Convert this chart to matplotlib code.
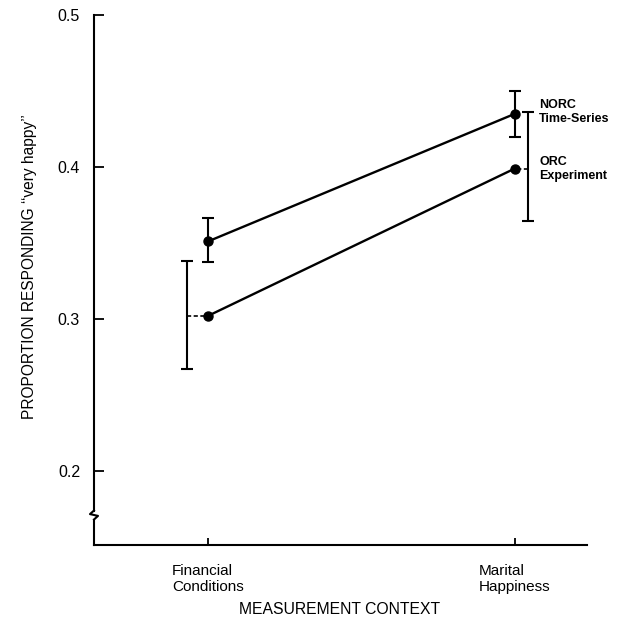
import matplotlib
matplotlib.use("Agg")
import matplotlib.pyplot as plt
from matplotlib.lines import Line2D

plt.rcParams['font.family'] = ['Liberation Sans', 'DejaVu Sans']

contexts = ["Financial\nConditions", "Marital\nHappiness"]
norc_vals = [0.351, 0.435]
norc_lo = [0.3375, 0.420]
norc_hi = [0.3665, 0.450]
orc_vals = [0.302, 0.399]
orc_lo = [0.267, 0.3645]
orc_hi = [0.338, 0.436]
yticks = [0.2, 0.3, 0.4, 0.5]

W, H = 617, 618
fig = plt.figure(figsize=(W/100, H/100), dpi=100)
ax = fig.add_axes([94/W, 1-545/H, (587-94)/W, (545-15)/H])

xs = [0, 1]
k = 'black'
# main lines
ax.plot(xs, norc_vals, color=k, lw=1.7, marker='o', ms=6.5, zorder=3)
ax.plot(xs, orc_vals, color=k, lw=1.7, marker='o', ms=6.5, zorder=3)

# NORC error bars at data points
for x, lo, hi in zip(xs, norc_lo, norc_hi):
    ax.errorbar([x], [(lo+hi)/2], yerr=[[(hi-lo)/2]], fmt='none', ecolor=k,
                elinewidth=1.5, capsize=4.5, capthick=1.5)

# ORC error bars offset from points
orc_off = [-0.068, 0.043]
for x, off, v, lo, hi in zip(xs, orc_off, orc_vals, orc_lo, orc_hi):
    ex = x + off
    ax.errorbar([ex], [(lo+hi)/2], yerr=[[(hi-lo)/2]], fmt='none', ecolor=k,
                elinewidth=1.5, capsize=4.5, capthick=1.5)
    ax.plot([ex, x], [v, v], color=k, lw=1.2, ls=(0, (2.5, 1.5)))

ax.set_xlim(-0.371, 1.235)
ax.set_ylim(0.1513, 0.5)
ax.set_xticks(xs)
ax.set_xticklabels(contexts, fontsize=11, multialignment='left', linespacing=1.15)
ax.set_yticks(yticks)
ax.set_yticklabels([f"{t:.1f}" for t in yticks], fontsize=11.5)
ax.tick_params(axis='y', direction='in', length=7, width=1.3, pad=10)
ax.tick_params(axis='x', direction='in', length=5, width=1.3, pad=14)

for s in ['top', 'right', 'left']:
    ax.spines[s].set_visible(False)
ax.spines['bottom'].set_linewidth(1.5)

# left spine with break
yb = (545-515)/530.0
dx = 4/493
dy = 3/530
tr = ax.transAxes
ax.add_line(Line2D([0, 0], [yb+dy*1.5, 1], transform=tr, color=k, lw=1.5, clip_on=False))
ax.add_line(Line2D([0, -dx, dx, 0], [yb+dy*1.5, yb+dy*0.3, yb-dy*0.3, yb-dy*1.5],
                   transform=tr, color=k, lw=1.5, clip_on=False))
ax.add_line(Line2D([0, 0], [0, yb-dy*1.5], transform=tr, color=k, lw=1.5, clip_on=False))

# series labels
fig.text(539/W, 1-112/H, "NORC\nTime-Series", fontsize=9, fontweight='bold',
         va='center', ha='left', linespacing=1.3)
fig.text(539/W, 1-169/H, "ORC\nExperiment", fontsize=9, fontweight='bold',
         va='center', ha='left', linespacing=1.3)

fig.text(30/W, 1-267/H, "PROPORTION RESPONDING \u2018\u2018very happy\u2019\u2019",
         fontsize=11.2, rotation=90, ha='center', va='center')
fig.text(340/W, 1-610/H, "MEASUREMENT CONTEXT", fontsize=11.3, ha='center', va='center')

fig.savefig("out.png", dpi=100)
